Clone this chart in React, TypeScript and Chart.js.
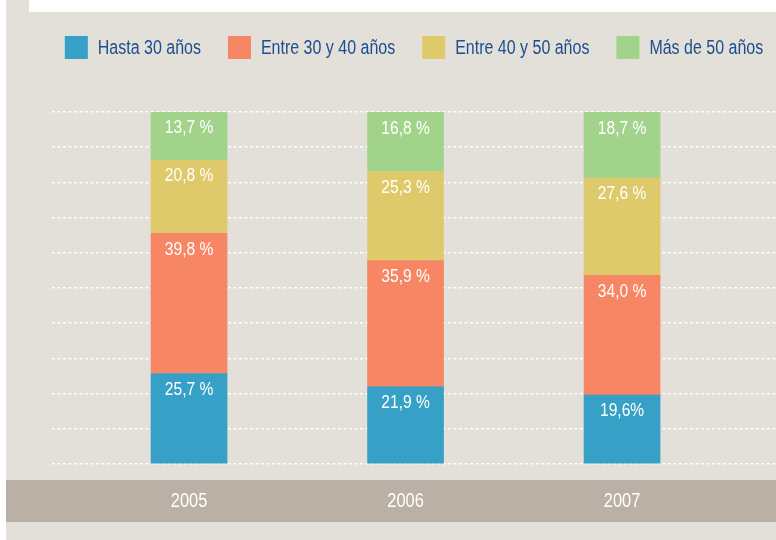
import React, { useEffect, useRef } from 'react';
import { Chart, registerables } from 'chart.js';

Chart.register(...registerables);

// ---- data ----
const YEARS = [2005, 2006, 2007];
const SERIES_NAMES = ['Hasta 30 años', 'Entre 30 y 40 años', 'Entre 40 y 50 años', 'Más de 50 años'];
const HASTA_30 = [25.7, 21.9, 19.6];
const ENTRE_30_40 = [39.8, 35.9, 34.0];
const ENTRE_40_50 = [20.8, 25.3, 27.6];
const MAS_50 = [13.7, 16.8, 18.7];
const HASTA_30_TXT = ['25,7 %', '21,9 %', '19,6%'];
const ENTRE_30_40_TXT = ['39,8 %', '35,9 %', '34,0 %'];
const ENTRE_40_50_TXT = ['20,8 %', '25,3 %', '27,6 %'];
const MAS_50_TXT = ['13,7 %', '16,8 %', '18,7 %'];
const Y_MIN = 0;
const Y_MAX = 100;
const Y_STEP = 10;

// ---- style ----
const COLORS = ['#37a0c6', '#f68664', '#dfca6b', '#a2d38b'];
const BG = '#e3dfd9';
const BAND = '#bbb0a5';
const LEGEND_TEXT = '#1d4e8f';
const FONT = "'Liberation Sans', Arial, sans-serif";
const NARROW = 0.82; // horizontal condensing to emulate a narrow face

const VALUES = [HASTA_30, ENTRE_30_40, ENTRE_40_50, MAS_50];
const TEXTS = [HASTA_30_TXT, ENTRE_30_40_TXT, ENTRE_40_50_TXT, MAS_50_TXT];

function narrowText(ctx: CanvasRenderingContext2D, text: string, x: number, y: number) {
  ctx.save();
  ctx.translate(x, y);
  ctx.scale(NARROW, 1);
  ctx.fillText(text, 0, 0);
  ctx.restore();
}

const background = {
  id: 'background',
  beforeDraw(chart: any) {
    const { ctx, width, height } = chart;
    ctx.save();
    ctx.fillStyle = '#ffffff';
    ctx.fillRect(0, 0, width, height);
    ctx.fillStyle = BG;
    ctx.fillRect(6, 0, width - 6, height);
    ctx.fillStyle = '#ffffff';
    ctx.fillRect(29, 0, width - 29, 12);
    ctx.fillStyle = BAND;
    ctx.fillRect(6, 480, width - 6, 42);
    ctx.restore();
  },
};

const narrowLegend = {
  id: 'narrowLegend',
  afterDraw(chart: any) {
    const { ctx, chartArea } = chart;
    const size = 19.5;
    const box = 23;
    const gapText = 10;
    const gapItem = 27;
    ctx.save();
    ctx.font = `${size}px ${FONT}`;
    const items = chart.data.datasets.map((ds: any) => ({
      label: ds.label as string,
      color: ds.backgroundColor as string,
      w: ctx.measureText(ds.label).width * NARROW,
    }));
    const total = items.reduce((s: number, it: any) => s + box + gapText + it.w, 0) + gapItem * (items.length - 1);
    const center = (chartArea.left + chart.width) / 2;
    let x = center - total / 2;
    const top = 36;
    items.forEach((it: any) => {
      ctx.fillStyle = it.color;
      ctx.fillRect(x, top, box, box);
      ctx.fillStyle = LEGEND_TEXT;
      ctx.textAlign = 'left';
      ctx.textBaseline = 'middle';
      narrowText(ctx, it.label, x + box + gapText, top + box / 2 + 1);
      x += box + gapText + it.w + gapItem;
    });
    ctx.restore();
  },
};

const xLabels = {
  id: 'xLabels',
  afterDraw(chart: any) {
    const { ctx } = chart;
    const xs = chart.scales.x;
    ctx.save();
    ctx.fillStyle = '#ffffff';
    ctx.font = `20px ${FONT}`;
    ctx.textAlign = 'center';
    ctx.textBaseline = 'middle';
    YEARS.forEach((yr) => {
      narrowText(ctx, String(yr), xs.getPixelForValue(yr), 501);
    });
    ctx.restore();
  },
};

const valueLabels = {
  id: 'valueLabels',
  afterDatasetsDraw(chart: any) {
    const { ctx } = chart;
    ctx.save();
    ctx.fillStyle = '#ffffff';
    ctx.font = `19px ${FONT}`;
    ctx.textAlign = 'center';
    ctx.textBaseline = 'middle';
    chart.data.datasets.forEach((ds: any, di: number) => {
      const meta = chart.getDatasetMeta(di);
      meta.data.forEach((el: any, i: number) => {
        narrowText(ctx, TEXTS[di][i], el.x, el.y + 16);
      });
    });
    ctx.restore();
  },
};

export default function App() {
  const ref = useRef<HTMLCanvasElement>(null);

  useEffect(() => {
    const canvas = ref.current;
    if (!canvas) return;
    const datasets = SERIES_NAMES.map((name, si) => ({
      label: name,
      data: YEARS.map((x, i) => ({ x, y: VALUES[si][i] })),
      backgroundColor: COLORS[si],
      borderWidth: 0,
      barThickness: 76,
    }));
    const chart = new Chart(canvas, {
      type: 'bar',
      data: { datasets } as any,
      options: {
        responsive: false,
        animation: false,
        events: [],
        layout: { padding: { top: 112, left: 52, right: 0, bottom: 76 } },
        plugins: {
          tooltip: { enabled: false },
          legend: { display: false },
        },
        scales: {
          x: {
            type: 'linear',
            stacked: true,
            offset: false,
            min: 2004.367,
            max: 2007.711,
            ticks: { display: false },
            grid: { display: false, drawTicks: false },
            border: { display: false },
          },
          y: {
            stacked: true,
            min: Y_MIN,
            max: Y_MAX,
            ticks: { display: false, stepSize: Y_STEP },
            grid: { color: 'rgba(255,255,255,0.95)', lineWidth: 1.5, drawTicks: false },
            border: { display: false, dash: [3, 2.5] },
          },
        },
      } as any,
      plugins: [background, valueLabels, narrowLegend, xLabels],
    });
    return () => chart.destroy();
  }, []);

  return (
    <div style={{ position: 'absolute', left: 0, top: 0, width: 776, height: 540 }}>
      <canvas ref={ref} width={776} height={540} style={{ display: 'block', width: 776, height: 540 }} />
    </div>
  );
}
